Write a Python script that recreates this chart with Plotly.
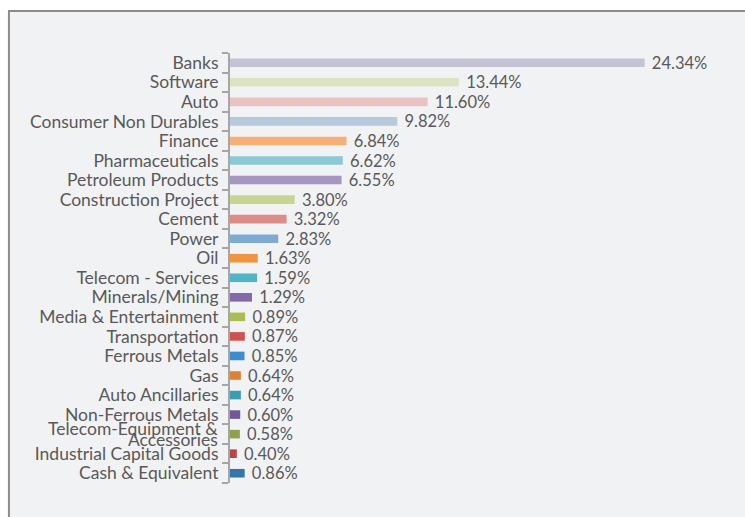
import plotly.graph_objects as go

# Sector allocation (% of net assets)
sectors = [
    "Banks", "Software", "Auto", "Consumer Non Durables", "Finance",
    "Pharmaceuticals", "Petroleum Products", "Construction Project", "Cement",
    "Power", "Oil", "Telecom - Services", "Minerals/Mining",
    "Media & Entertainment", "Transportation", "Ferrous Metals", "Gas",
    "Auto Ancillaries", "Non-Ferrous Metals",
    "Telecom-Equipment & Accessories", "Industrial Capital Goods",
    "Cash & Equivalent",
]
weights = [
    24.34, 13.44, 11.60, 9.82, 6.84, 6.62, 6.55, 3.80, 3.32, 2.83, 1.63,
    1.59, 1.29, 0.89, 0.87, 0.85, 0.64, 0.64, 0.60, 0.58, 0.40, 0.86,
]
bar_colors = [
    "#c5c3d4", "#dbe3c2", "#e8c3c2", "#b7cadb", "#f7b073", "#8bc9d5",
    "#a697c1", "#c9d48f", "#de8a86", "#7faad2", "#f2943a", "#4eb4c8",
    "#8369a8", "#abbc53", "#cf5150", "#3b8dcd", "#e08035", "#399fb0",
    "#72589b", "#90a14a", "#b94644", "#3675a9",
]
# the long sector name is set on two tightly spaced lines
wrapped = {"Telecom-Equipment & Accessories": ["Telecom-Equipment &", "Accessories"]}

W, H = 745, 517
plot_left, plot_top, plot_bottom = 229.5, 53, 483
x_max = 28.0
px_per_unit = 17.07
plot_w = x_max * px_per_unit
plot_h = plot_bottom - plot_top
label_font = dict(family="Lato", size=17.5, color="#595959")

fig = go.Figure(
    go.Bar(
        x=weights,
        y=sectors,
        orientation="h",
        marker=dict(color=bar_colors, line=dict(width=0)),
        width=0.44,
        text=[f" {v:.2f}%" for v in weights],
        textposition="outside",
        constraintext="none",
        textfont=dict(family="Lato", size=16.5, color="#595959"),
        cliponaxis=False,
        hoverinfo="skip",
    )
)

def px_to_paper_x(p):
    return (p - plot_left) / plot_w

def px_to_paper_y(p):
    return (plot_bottom - p) / plot_h

# light panel with a gray frame
fig.add_shape(
    type="rect", xref="paper", yref="paper", layer="below",
    x0=px_to_paper_x(8), x1=px_to_paper_x(W + 20),
    y0=px_to_paper_y(H + 20), y1=px_to_paper_y(11),
    fillcolor="#f1f2f4", line=dict(color="#8c8c8c", width=2),
)

for name, lines in wrapped.items():
    for shift, line in zip((6, -5), lines):
        fig.add_annotation(
            x=px_to_paper_x(219.5), xref="paper", y=name, yref="y",
            text=line, showarrow=False, xanchor="right", yanchor="middle",
            yshift=shift, font=label_font,
        )

fig.update_layout(
    width=W, height=H,
    margin=dict(l=plot_left, r=W - plot_left - plot_w, t=plot_top, b=H - plot_bottom),
    paper_bgcolor="white",
    plot_bgcolor="rgba(0,0,0,0)",
    showlegend=False,
)
fig.update_xaxes(
    range=[0, x_max], visible=False, showgrid=False, zeroline=False,
)
fig.update_yaxes(
    type="category",
    categoryorder="array",
    categoryarray=sectors,
    tickvals=sectors,
    ticktext=["" if s in wrapped else s for s in sectors],
    autorange="reversed",
    tickson="boundaries",
    ticks="outside",
    ticklen=6,
    tickwidth=2,
    tickcolor="#a6a6a6",
    showline=True,
    linecolor="#a6a6a6",
    linewidth=2,
    showgrid=False,
    ticklabelstandoff=6,
    tickfont=label_font,
)

fig.write_html("out.html")
